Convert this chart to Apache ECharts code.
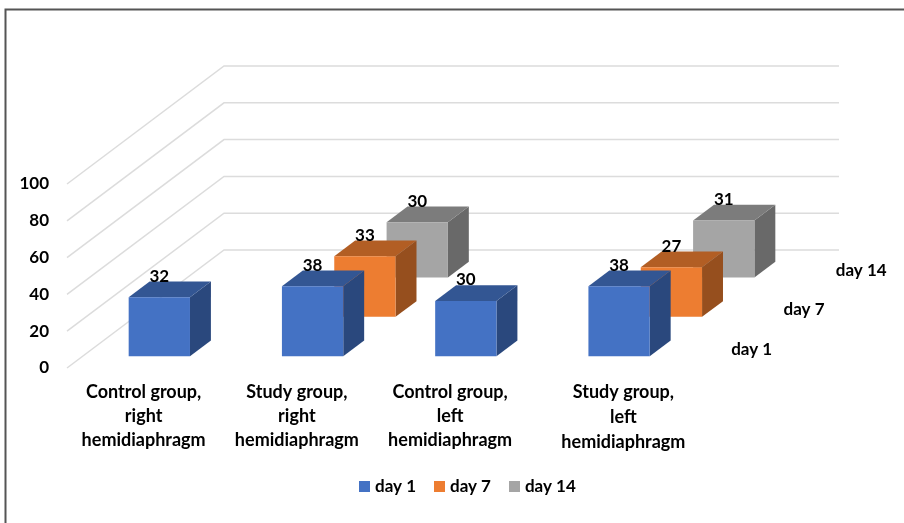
<!DOCTYPE html>
<html>
<head>
<meta charset="utf-8">
<style>html,body{margin:0;padding:0;background:#fff}#chart{width:904px;height:523px}</style>
<script src="https://cdn.jsdelivr.net/npm/echarts@6/dist/echarts.min.js"></script>
</head>
<body>
<div id="chart"></div>
<script>
// Chart values
var categories = ['Control group,\nright\nhemidiaphragm', 'Study group,\nright\nhemidiaphragm', 'Control group,\nleft\nhemidiaphragm', 'Study group,\nleft\nhemidiaphragm'];
var day1 = [32, 38, 30, 38];
var day7 = [null, 33, null, 27];
var day14 = [null, 30, null, 31];
var seriesNames = ['day 1', 'day 7', 'day 14'];
var valueTicks = [0, 20, 40, 60, 80, 100];

// Oblique projection of the depth axis, in pixels
var DEPTH_X = 157, DEPTH_Y = -118, ROWS = 3, BAR_SHARE = 0.4;
var FONT = 'Lato, "Open Sans", sans-serif';
var TEXT_SIZE = 18, LEGEND_SIZE = 17, DIGIT_SIZE = 17;

var palettes = [
  { front: '#4472C4', top: '#335693', side: '#2A487D' },
  { front: '#ED7D31', top: '#B25E24', side: '#964F1E' },
  { front: '#A5A5A5', top: '#7C7C7C', side: '#696969' }
];

function toPairs(values) {
  var out = [];
  values.forEach(function (v, i) { if (v !== null) out.push([i, v]); });
  return out;
}

function points(list) { return { points: list }; }

// One box: front, top and side faces, with its value above the front face
function boxRenderer(row) {
  var pal = palettes[row];
  return function (params, api) {
    var value = api.value(1);
    var base = api.coord([api.value(0), 0]);
    var topPt = api.coord([api.value(0), value]);
    var band = api.size([1, 0])[0];
    var w = band * BAR_SHARE;
    var rowX = DEPTH_X / ROWS, rowY = DEPTH_Y / ROWS;
    var startShare = row + (1 - BAR_SHARE) / 2;
    var ox = rowX * startShare, oy = rowY * startShare;
    var dx = rowX * BAR_SHARE, dy = rowY * BAR_SHARE;
    var x0 = base[0] - w / 2 + ox, x1 = x0 + w;
    var yb = base[1] + oy, yt = topPt[1] + oy;
    return {
      type: 'group',
      children: [
        { type: 'polygon', shape: points([[x1, yb], [x1 + dx, yb + dy], [x1 + dx, yt + dy], [x1, yt]]), style: { fill: pal.side } },
        { type: 'polygon', shape: points([[x0, yt], [x1, yt], [x1 + dx, yt + dy], [x0 + dx, yt + dy]]), style: { fill: pal.top } },
        { type: 'rect', shape: { x: x0, y: yt, width: w, height: yb - yt }, style: { fill: pal.front } },
        { type: 'text', z2: 10, style: { text: String(value), x: (x0 + x1) / 2, y: yt - 21, textAlign: 'center', textVerticalAlign: 'middle', fontFamily: FONT, fontWeight: 700, fontSize: DIGIT_SIZE, fill: '#000' } }
      ]
    };
  };
}

// Wall grid: a line up the side wall, then along the back wall
function renderWallLine(params, api) {
  var v = api.value(0);
  var left = api.coord([0, v]);
  var band = api.size([1, 0])[0];
  var x0 = left[0] - band / 2;
  var xEnd = x0 + band * categories.length;
  return {
    type: 'polyline',
    shape: points([[x0, left[1]], [x0 + DEPTH_X, left[1] + DEPTH_Y], [xEnd + DEPTH_X + 2, left[1] + DEPTH_Y]]),
    style: { fill: 'none', stroke: '#DCDCDC', lineWidth: 1.5 }
  };
}

// Names of the depth rows, to the right of the floor
function renderRowName(params, api) {
  var row = api.value(0);
  var base = api.coord([categories.length - 1, 0]);
  var band = api.size([1, 0])[0];
  var share = row + 0.5;
  return {
    type: 'text',
    style: {
      text: seriesNames[row],
      x: base[0] + band / 2 + DEPTH_X / ROWS * share + 25,
      y: base[1] + DEPTH_Y / ROWS * share + 1,
      textAlign: 'left', textVerticalAlign: 'middle',
      fontFamily: FONT, fontWeight: 700, fontSize: LEGEND_SIZE, fill: '#000'
    }
  };
}

function boxSeries(row, values) {
  return {
    type: 'custom',
    name: seriesNames[row],
    z: 5 - row,
    renderItem: boxRenderer(row),
    itemStyle: { color: palettes[row].front },
    encode: { x: 0, y: 1 },
    data: toPairs(values)
  };
}

var chart = echarts.init(document.getElementById('chart'), null, { renderer: 'canvas' });
chart.setOption({
  animation: false,
  backgroundColor: '#fff',
  grid: { left: 67, top: 184, width: 613, height: 184 },
  legend: {
    data: seriesNames,
    left: 354, top: 473,
    itemWidth: 11, itemHeight: 11, itemGap: 18,
    icon: 'rect',
    textStyle: { fontFamily: FONT, fontWeight: 700, fontSize: LEGEND_SIZE, color: '#000' }
  },
  xAxis: {
    type: 'category',
    data: categories,
    axisLine: { show: false },
    axisTick: { show: false },
    splitLine: { show: false },
    axisLabel: {
      interval: 0,
      margin: 12,
      color: '#000',
      fontFamily: FONT,
      fontWeight: 700,
      fontSize: TEXT_SIZE,
      lineHeight: 24,
      formatter: function (text, i) {
        if (i !== categories.length - 1) return text;
        return text.split('\n').map(function (s) { return '{shifted|' + s + '}'; }).join('\n');
      },
      rich: {
        shifted: { padding: [0, 0, 0, 40], lineHeight: 25, fontFamily: FONT, fontWeight: 700, fontSize: TEXT_SIZE, color: '#000' }
      }
    }
  },
  yAxis: {
    type: 'value',
    min: 0, max: 100, interval: 20,
    axisLine: { show: false },
    axisTick: { show: false },
    splitLine: { show: false },
    axisLabel: { margin: 18, color: '#000', fontFamily: FONT, fontWeight: 700, fontSize: DIGIT_SIZE }
  },
  graphic: [{
    type: 'polyline',
    silent: true,
    shape: { points: [[5.5, 523], [5.5, 9.5], [904, 9.5]] },
    style: { fill: 'none', stroke: '#555', lineWidth: 2 }
  }],
  series: [
    boxSeries(0, day1),
    boxSeries(1, day7),
    boxSeries(2, day14),
    { type: 'custom', name: 'grid', z: 1, silent: true, renderItem: renderWallLine, encode: { x: 1, y: 0 }, data: valueTicks.map(function (t) { return [t, 0]; }) },
    { type: 'custom', name: 'rows', z: 1, silent: true, renderItem: renderRowName, data: seriesNames.map(function (n, i) { return [i]; }) }
  ]
});
</script>
</body>
</html>
